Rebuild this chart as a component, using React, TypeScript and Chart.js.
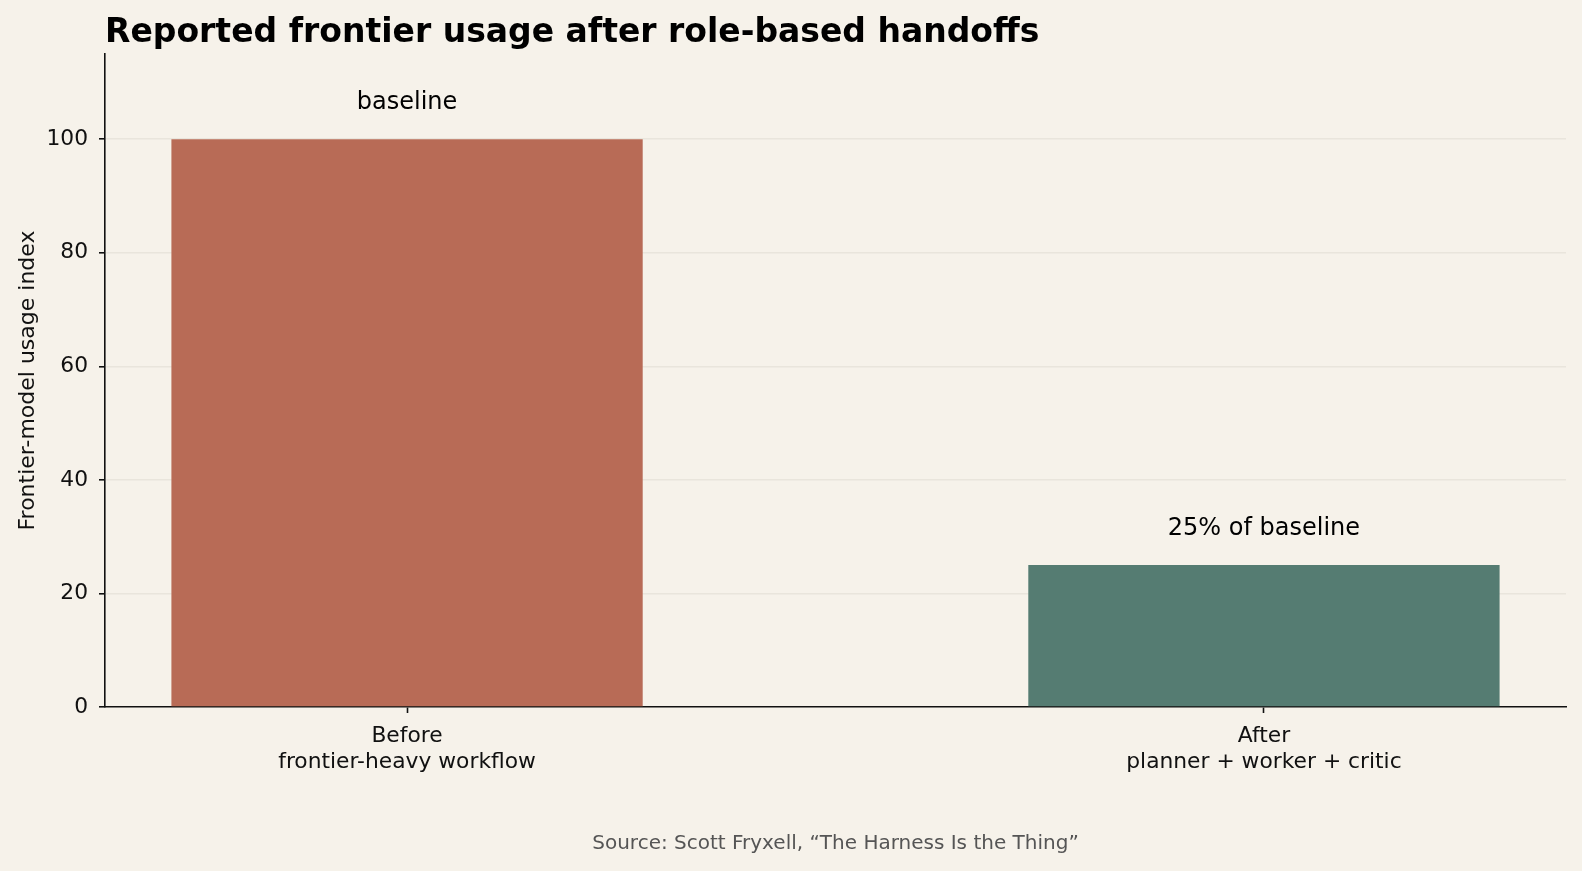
import { Chart, registerables } from 'chart.js';
import { useEffect, useRef } from 'react';

Chart.register(...registerables);

const categoryLabels: string[][] = [
    ['Before', 'frontier-heavy workflow'],
    ['After', 'planner + worker + critic'],
];
const usageIndex = [100, 25];
const barNotes = ['baseline', '25% of baseline'];
const yTickValues = [0, 20, 40, 60, 80, 100];
const barColors = ['#B86B56', '#557C72'];

const FONT = '"DejaVu Sans", Verdana, sans-serif';
const BG = '#F6F2EA';
const GRID = 'rgba(215,210,200,0.4)';

const App: React.FC = () => {
    const chartRef = useRef<HTMLCanvasElement | null>(null);
    const chartInstance = useRef<Chart | null>(null);

    useEffect(() => {
        document.body.style.margin = '0';
        document.body.style.background = BG;
        if (!chartRef.current) {
            return;
        }
        const context = chartRef.current.getContext('2d');
        if (!context) {
            return;
        }
        if (chartInstance.current) {
            chartInstance.current.destroy();
        }

        // textos: título, rótulo do eixo y, anotações e fonte
        const textPlugin = {
            id: 'texts',
            afterDraw(chart: Chart) {
                const ctx = chart.ctx;
                const xs = chart.scales.x;
                const ys = chart.scales.y;
                const area = chart.chartArea;
                ctx.save();
                ctx.fillStyle = '#000';
                ctx.textAlign = 'left';
                ctx.textBaseline = 'middle';
                ctx.font = `bold 33px ${FONT}`;
                ctx.fillText('Reported frontier usage after role-based handoffs', area.left, 33);

                ctx.font = `24px ${FONT}`;
                ctx.textAlign = 'center';
                usageIndex.forEach((v, i) => {
                    ctx.fillText(barNotes[i], xs.getPixelForValue(i), ys.getPixelForValue(v) - 36);
                });

                ctx.font = `20px ${FONT}`;
                ctx.fillStyle = '#555';
                ctx.fillText('Source: Scott Fryxell, \u201CThe Harness Is the Thing\u201D', (area.left + area.right) / 2, 844);

                ctx.translate(28, (area.top + area.bottom) / 2);
                ctx.rotate(-Math.PI / 2);
                ctx.fillStyle = '#111';
                ctx.font = `22px ${FONT}`;
                ctx.fillText('Frontier-model usage index', 0, 0);
                ctx.restore();
            },
        };

        chartInstance.current = new Chart(context, {
            type: 'bar',
            data: {
                datasets: [
                    {
                        data: usageIndex.map((v, i) => ({ x: i, y: v })),
                        backgroundColor: barColors,
                        borderWidth: 0,
                        categoryPercentage: 1,
                        barPercentage: 0.55,
                    },
                ],
            },
            options: {
                animation: false,
                responsive: false,
                layout: { padding: { top: 54, right: 16, left: 0, bottom: 0 } },
                plugins: {
                    legend: { display: false },
                    tooltip: { enabled: false },
                },
                scales: {
                    x: {
                        type: 'linear',
                        min: -0.3525,
                        max: 1.3525,
                        offset: false,
                        z: 1,
                        afterFit: (scale: any) => {
                            scale.height = 164;
                        },
                        afterBuildTicks: (scale: any) => {
                            scale.ticks = categoryLabels.map((_, i) => ({ value: i }));
                        },
                        ticks: {
                            color: '#111',
                            font: { family: FONT, size: 21.8, lineHeight: 1.2 },
                            padding: 10,
                            maxRotation: 0,
                            autoSkip: false,
                            callback: (value: any) => categoryLabels[Math.round(Number(value))] ?? '',
                        },
                        grid: {
                            display: true,
                            drawOnChartArea: false,
                            drawTicks: true,
                            tickLength: 6,
                            tickColor: '#111',
                            tickWidth: 1.6,
                            offset: false,
                        },
                        border: { display: true, color: '#111', width: 1.6 },
                    },
                    y: {
                        min: 0,
                        max: 115,
                        z: 1,
                        afterFit: (scale: any) => {
                            scale.width = 105;
                        },
                        afterBuildTicks: (scale: any) => {
                            scale.ticks = yTickValues.map((v) => ({ value: v }));
                        },
                        ticks: {
                            color: '#111',
                            font: { family: FONT, size: 21.8 },
                            padding: 11,
                        },
                        grid: {
                            color: (c: any) => (c.tick && c.tick.value === 0 ? 'rgba(0,0,0,0)' : GRID),
                            lineWidth: 1.6,
                            drawTicks: true,
                            tickLength: 6,
                            tickColor: '#111',
                            tickWidth: 1.6,
                        },
                        border: { display: true, color: '#111', width: 1.6 },
                    },
                },
            },
            plugins: [textPlugin],
        });

        return () => {
            if (chartInstance.current) {
                chartInstance.current.destroy();
                chartInstance.current = null;
            }
        };
    }, []);

    return (
        <div style={{ position: 'absolute', left: 0, top: 0, width: 1582, height: 871, background: BG }}>
            <canvas ref={chartRef} width={1582} height={871} />
        </div>
    );
};

export default App;
